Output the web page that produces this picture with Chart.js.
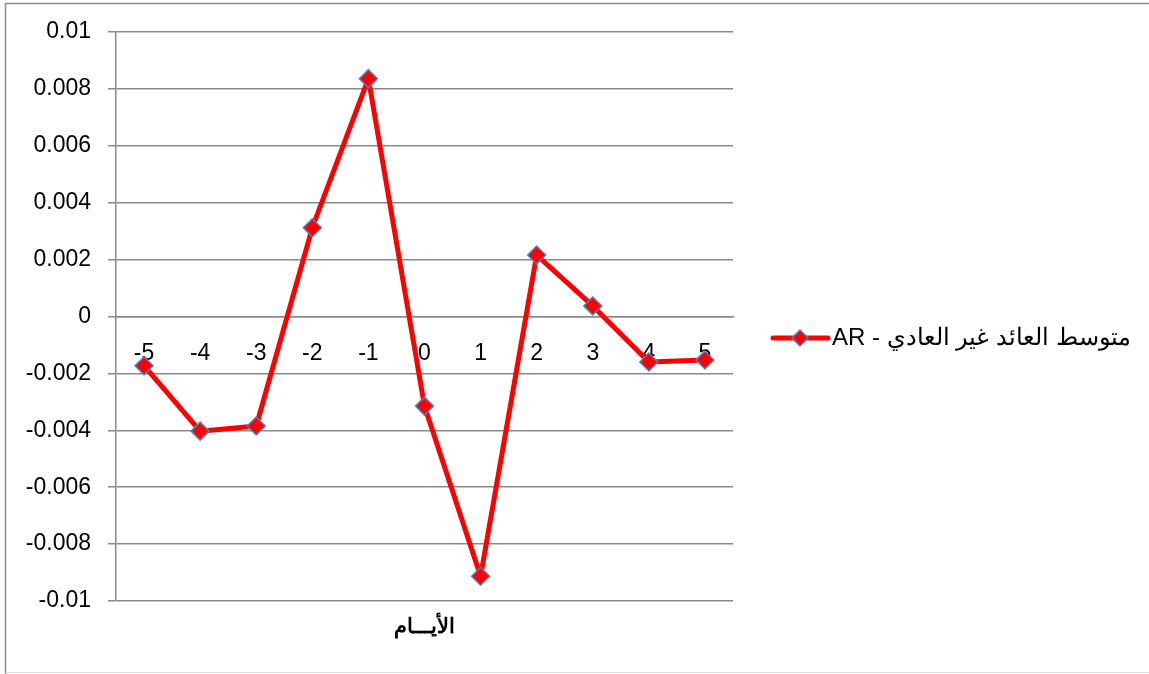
<!DOCTYPE html>
<html>
<head>
<meta charset="utf-8">
<script src="https://cdn.jsdelivr.net/npm/chart.js@4/dist/chart.umd.min.js"></script>
<style>
  html, body { margin: 0; padding: 0; background: #fff; }
  #wrap { width: 1149px; height: 674px; position: relative; }
</style>
</head>
<body>
<div id="wrap"><canvas id="c" width="1149" height="674"></canvas></div>
<script>
// Event window (days around the announcement)
const days = ['-5', '-4', '-3', '-2', '-1', '0', '1', '2', '3', '4', '5'];
// Average abnormal return per day
const abnormalReturn = [-0.00173, -0.00403, -0.00385, 0.00312, 0.00836, -0.00315, -0.00913, 0.00216, 0.00037, -0.00160, -0.00153];
const seriesName = 'متوسط العائد غير العادي - AR';
const axisTitle = 'الأيـــام';
const yMin = -0.01;
const yMax = 0.01;
const yStep = 0.002;

const GRID = '#898989';
const LINE_RED = '#FF0000';
const MARKER_EDGE = '#4F81BD';
const LATIN = '"Liberation Sans", Arial, sans-serif';

// Diamond marker used by the hand-drawn legend entry
function diamond(ctx, x, y, r) {
  ctx.beginPath();
  ctx.moveTo(x, y - r);
  ctx.lineTo(x + r, y);
  ctx.lineTo(x, y + r);
  ctx.lineTo(x - r, y);
  ctx.closePath();
  ctx.fillStyle = LINE_RED;
  ctx.fill();
  ctx.lineWidth = 1.5;
  ctx.strokeStyle = MARKER_EDGE;
  ctx.stroke();
}

// White page with the outer chart frame
const framePlugin = {
  id: 'frame',
  beforeDraw(chart) {
    const { ctx, width, height } = chart;
    ctx.save();
    ctx.fillStyle = '#fff';
    ctx.fillRect(0, 0, width, height);
    ctx.strokeStyle = '#8a8a8a';
    ctx.lineWidth = 1.5;
    ctx.beginPath();
    ctx.moveTo(5.5, height);
    ctx.lineTo(5.5, 3.5);
    ctx.lineTo(width, 3.5);
    ctx.stroke();
    ctx.strokeStyle = '#dcdcdc';
    ctx.lineWidth = 1;
    ctx.beginPath();
    ctx.moveTo(5.5, height - 1.5);
    ctx.lineTo(width, height - 1.5);
    ctx.stroke();
    ctx.restore();
  }
};

// Legend on the right (line + diamond + RTL label) and the x-axis title under the plot
const annotationsPlugin = {
  id: 'annotations',
  afterDraw(chart) {
    const { ctx, chartArea, height } = chart;
    ctx.save();

    const ly = Math.round(height / 2) + 1;
    const lx = chartArea.right + 40;
    ctx.strokeStyle = LINE_RED;
    ctx.lineWidth = 5;
    ctx.lineCap = 'round';
    ctx.beginPath();
    ctx.moveTo(lx, ly);
    ctx.lineTo(lx + 55, ly);
    ctx.stroke();
    diamond(ctx, lx + 27, ly, 8);

    ctx.fillStyle = '#000';
    ctx.font = '24px ' + LATIN;
    ctx.direction = 'rtl';
    ctx.textAlign = 'left';
    ctx.textBaseline = 'middle';
    ctx.fillText(seriesName, lx + 59, ly);

    ctx.font = 'bold 21px ' + LATIN;
    ctx.textAlign = 'center';
    ctx.fillText(axisTitle, (chartArea.left + chartArea.right) / 2, chartArea.bottom + 26);
    ctx.restore();
  }
};

new Chart(document.getElementById('c'), {
  type: 'line',
  data: {
    labels: days,
    datasets: [{
      label: seriesName,
      data: abnormalReturn,
      borderColor: LINE_RED,
      borderWidth: 5,
      borderJoinStyle: 'round',
      tension: 0,
      fill: false,
      pointStyle: 'rectRot',
      pointRadius: 9,
      pointBackgroundColor: LINE_RED,
      pointBorderColor: MARKER_EDGE,
      pointBorderWidth: 1.5
    }]
  },
  options: {
    responsive: false,
    animation: false,
    events: [],
    layout: { padding: { left: 0, top: 32, right: 416, bottom: 73 } },
    plugins: {
      legend: { display: false },
      tooltip: { enabled: false },
      title: { display: false }
    },
    scales: {
      x: {
        type: 'category',
        position: { y: 0 },
        offset: true,
        grid: { display: false },
        border: { display: true, color: GRID, width: 1.5 },
        ticks: {
          padding: 15,
          color: '#000',
          maxRotation: 0,
          autoSkip: false,
          font: { family: LATIN, size: 23 }
        }
      },
      y: {
        min: yMin,
        max: yMax,
        afterFit(scale) { scale.width = 116; },
        grid: { color: GRID, lineWidth: 1.5, tickLength: 8, drawTicks: true },
        border: { display: true, color: GRID, width: 1.5 },
        ticks: {
          stepSize: yStep,
          padding: 17,
          color: '#000',
          font: { family: LATIN, size: 23 },
          callback: (v) => String(Number(Number(v).toFixed(3)) || 0)
        }
      }
    }
  },
  plugins: [framePlugin, annotationsPlugin]
});
</script>
</body>
</html>
